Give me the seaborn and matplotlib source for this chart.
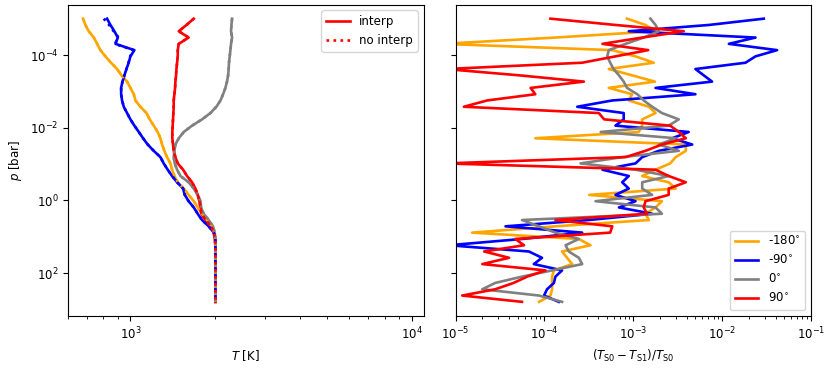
import pandas as pd
import seaborn as sns
import matplotlib
matplotlib.use("Agg")
import matplotlib.pyplot as plt
import matplotlib.ticker as mticker

plt.rcParams['font.size'] = 8.5

# pressure levels [bar]
p_bar = [1.0e-5, 1.49e-5, 2.22e-5, 3.31e-5, 4.93e-5, 7.34e-5, 1.09e-4, 1.63e-4,
         2.43e-4, 3.62e-4, 5.39e-4, 8.03e-4, 1.20e-3, 1.78e-3, 2.65e-3, 3.95e-3,
         5.89e-3, 8.77e-3, 1.31e-2, 1.95e-2, 2.90e-2, 4.32e-2, 6.44e-2, 9.59e-2,
         0.143, 0.213, 0.317, 0.472, 0.704, 1.05, 1.56, 2.33, 3.46, 5.16, 7.69,
         11.5, 17.1, 25.4, 37.9, 56.4, 84.1, 125, 186, 278, 414, 617]

longitudes = ['-180$^{\\circ}$', '-90$^{\\circ}$', '0$^{\\circ}$', '90$^{\\circ}$']
colors = ['orange', 'blue', 'grey', 'red']

# temperature profiles [K], interpolated
T_m180 = [679, 692, 711, 741, 762, 782, 815, 853, 897, 929, 973, 1000, 1028, 1042,
          1085, 1140, 1171, 1210, 1250, 1278, 1296, 1320, 1349, 1387, 1406, 1433,
          1473, 1547, 1610, 1679, 1734, 1797, 1872, 1951, 1988, 2004, 2004, 2004,
          2004, 2004, 2004, 2004, 2004, 2004, 2004, 2004]
T_m90 = [826, 849, 877, 902, 885, 1033, 1000, 986, 968, 952, 937, 927, 927, 934,
         947, 973, 1000, 1033, 1071, 1109, 1152, 1210, 1278, 1313, 1357, 1406,
         1465, 1539, 1560, 1610, 1679, 1734, 1797, 1898, 1979, 2004, 2004, 2004,
         2004, 2004, 2004, 2004, 2004, 2004, 2004, 2004]
T_0 = [2297, 2285, 2278, 2297, 2278, 2266, 2253, 2240, 2234, 2224, 2204, 2175,
       2134, 2089, 2020, 1924, 1797, 1656, 1547, 1485, 1445, 1433, 1425, 1437,
       1465, 1506, 1610, 1679, 1734, 1774, 1782, 1822, 1898, 1965, 1993, 2004,
       2004, 2004, 2004, 2004, 2004, 2004, 2004, 2004, 2004, 2004]
T_90 = [1679, 1582, 1485, 1610, 1485, 1473, 1473, 1465, 1457, 1453, 1445, 1441,
        1433, 1425, 1425, 1421, 1417, 1413, 1409, 1409, 1417, 1425, 1445, 1473,
        1539, 1589, 1656, 1702, 1734, 1758, 1774, 1787, 1847, 1934, 1979, 1993,
        2004, 2004, 2004, 2004, 2004, 2004, 2004, 2004, 2004, 2004]

# temperature profiles [K], not interpolated (differ only near the top)
T_m180_ni = T_m180
T_m90_ni = [804, 840, 872, 908, 880, 1025, 998, 984] + T_m90[8:]
T_0_ni = T_0
T_90_ni = T_90

# relative difference (T_S0 - T_S1) / T_S0
d_m180 = [8.5e-4, 1.37e-3, 1.78e-3, 1.33e-4, 7.1e-6, 5.8e-4, 1.06e-3, 1.7e-3,
          5.3e-4, 9.7e-4, 1.75e-3, 5.3e-4, 9.7e-4, 8.9e-4, 1.5e-3, 1.78e-3,
          1.26e-3, 1.26e-3, 1.15e-3, 7.9e-5, 3.9e-3, 3.9e-3, 3.0e-3, 2.6e-3,
          1.78e-3, 1.26e-3, 2.5e-3, 3.0e-3, 3.2e-4, 2.1e-3, 1.78e-3, 1.37e-3,
          1.5e-3, 1.33e-4, 1.54e-5, 2.44e-4, 3.3e-4, 1.58e-4, 1.8e-4, 2.05e-4,
          1.28e-4, 1.22e-4, 1.22e-4, 1.22e-4, 1.17e-4, 8.7e-5]
d_m90 = [2.94e-2, 7.1e-3, 8.9e-4, 2.37e-2, 1.19e-2, 4.15e-2, 2.37e-2, 1.83e-2,
         5.0e-3, 6.2e-3, 7.7e-3, 1.78e-3, 5.0e-3, 5.8e-4, 2.34e-4, 7.8e-4,
         7.8e-4, 6.3e-4, 4.2e-3, 2.74e-3, 4.6e-3, 1.94e-3, 1.26e-3, 1.06e-3,
         4.5e-4, 8.9e-4, 7.5e-4, 8.9e-4, 6.3e-4, 1.06e-3, 6.9e-4, 1.63e-3,
         3.16e-4, 3.65e-5, 2.66e-4, 5.6e-5, 8.4e-6, 6.7e-5, 9.4e-5, 7.6e-5,
         1.58e-4, 1.33e-4, 1.28e-4, 1.07e-4, 9.9e-5, 1.45e-4]
d_0 = [1.56e-3, 1.78e-3, 1.94e-3, 1.31e-3, 8.2e-4, 5.3e-4, 5.1e-4, 5.5e-4,
       6.0e-4, 6.9e-4, 7.8e-4, 8.5e-4, 1.11e-3, 1.31e-3, 1.63e-3, 2.1e-3,
       3.25e-3, 2.5e-3, 4.3e-4, 3.0e-3, 1.94e-3, 3.25e-3, 7.5e-4, 2.55e-4,
       1.06e-3, 2.5e-3, 1.26e-3, 1.26e-3, 1.63e-3, 3.76e-4, 1.78e-3, 2.1e-3,
       5.6e-5, 8.7e-5, 1.33e-4, 2.44e-4, 1.73e-4, 1.88e-4, 2.44e-4, 2.66e-4,
       1.22e-4, 5.6e-5, 2.8e-5, 2.0e-5, 8.7e-5, 1.58e-4]
d_90 = [1.17e-4, 6.3e-4, 3.7e-3, 1.26e-3, 4.5e-4, 1.47e-3, 6.3e-4, 2.66e-4,
        7.7e-6, 5.2e-5, 2.78e-4, 7.0e-5, 7.9e-5, 2.27e-5, 1.24e-5, 4.1e-4,
        4.7e-4, 2.6e-3, 3.25e-3, 3.9e-3, 2.1e-3, 1.37e-3, 8.2e-4, 7.7e-6,
        1.78e-3, 2.5e-3, 3.9e-3, 2.5e-3, 2.5e-3, 1.37e-3, 1.31e-3, 1.43e-3,
        1.33e-4, 5.8e-4, 5.5e-4, 4.7e-5, 5.9e-5, 2.1e-5, 4.0e-5, 2.0e-5,
        1.03e-4, 6.4e-5, 4.5e-5, 2.8e-5, 1.19e-5, 5.6e-5]

T_interp = [T_m180, T_m90, T_0, T_90]
T_nointerp = [T_m180_ni, T_m90_ni, T_0_ni, T_90_ni]
rel_diff = [d_m180, d_m90, d_0, d_90]

frames = []
for lon, T, Tn, d in zip(longitudes, T_interp, T_nointerp, rel_diff):
    frames.append(pd.DataFrame({'p': p_bar, 'T': T, 'T_ni': Tn, 'diff': d, 'lon': lon}))
df = pd.concat(frames, ignore_index=True)

fig, (ax1, ax2) = plt.subplots(1, 2, figsize=(8.31, 3.69), dpi=100, sharey=True)
fig.subplots_adjust(left=0.0818, right=0.976, bottom=0.1436, top=0.9878, wspace=0.09)

lw = 1.9
sns.lineplot(data=df, x='T', y='p', hue='lon', hue_order=longitudes, palette=colors,
             sort=False, estimator=None, lw=lw, legend=False, ax=ax1)
sns.lineplot(data=df, x='T_ni', y='p', hue='lon', hue_order=longitudes, palette=colors,
             sort=False, estimator=None, lw=lw, ls=':', legend=False, ax=ax1)
sns.lineplot(data=df, x='diff', y='p', hue='lon', hue_order=longitudes, palette=colors,
             sort=False, estimator=None, lw=lw, legend=False, ax=ax2)

for ax in (ax1, ax2):
    ax.set_xscale('log')
    ax.set_yscale('log')
ax1.invert_yaxis()
ax1.set_yticks([1e-4, 1e-2, 1e0, 1e2])
ax1.yaxis.set_minor_locator(mticker.NullLocator())

ax1.set_xlim(600, 1.1e4)
ax2.set_xlim(1e-5, 1e-1)

ax1.set_xlabel('$T$ [K]')
ax1.set_ylabel('$p$ [bar]')
ax2.set_xlabel('$(T_{\\rm S0} - T_{\\rm S1})/T_{\\rm S0}$')
ax2.set_ylabel('$p$ [bar]')
ax2.tick_params(axis='y', labelleft=False)

l1 = ax1.get_lines()
ax1.legend([l1[3], l1[7]], ['interp', 'no interp'], loc='upper right')
l2 = ax2.get_lines()
ax2.legend(l2[:4], longitudes, loc='lower right')

plt.savefig('out.png', dpi=100)
